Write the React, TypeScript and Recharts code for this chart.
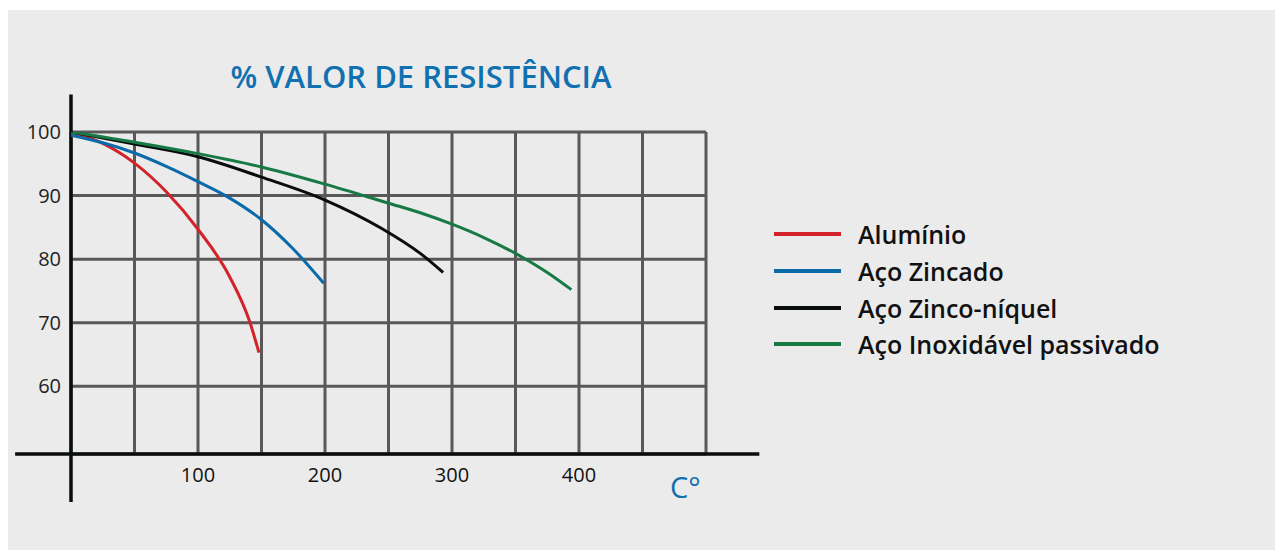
import { LineChart, Line, XAxis, YAxis, CartesianGrid, ReferenceLine } from 'recharts';

const aluminioTemp = [0, 25, 50, 75, 100, 125, 141, 148];
const aluminioRes = [100, 98.2, 95.1, 90.6, 84.7, 77.2, 70, 65.3];

const zincadoTemp = [0, 25, 50, 75, 100, 125, 150, 175, 199];
const zincadoRes = [99.5, 98.3, 96.7, 94.6, 92.2, 89.6, 86.2, 81.6, 76.2];

const zincoNiquelTemp = [0, 50, 100, 150, 200, 244, 275, 293];
const zincoNiquelRes = [100, 98.1, 96.1, 92.9, 89.3, 84.9, 80.9, 77.9];

const inoxTemp = [0, 50, 100, 150, 200, 250, 275, 300, 325, 350, 375, 394];
const inoxRes = [100, 98.4, 96.6, 94.5, 91.8, 88.8, 87.3, 85.5, 83.4, 80.9, 77.9, 75.2];

const xTicks = [0, 50, 100, 150, 200, 250, 300, 350, 400, 450, 500];
const xLabels = [100, 200, 300, 400];
const yTicks = [60, 70, 80, 90, 100];

const toPoints = (t: number[], r: number[]) => t.map((x, i) => ({ t: x, v: r[i] }));

const series = [
    { name: 'Alumínio', color: '#d3222a', data: toPoints(aluminioTemp, aluminioRes) },
    { name: 'Aço Zincado', color: '#0b6aaa', data: toPoints(zincadoTemp, zincadoRes) },
    { name: 'Aço Zinco-níquel', color: '#0a0d0d', data: toPoints(zincoNiquelTemp, zincoNiquelRes) },
    { name: 'Aço Inoxidável passivado', color: '#177a45', data: toPoints(inoxTemp, inoxRes) },
];

const font = '"Open Sans", "Noto Sans", sans-serif';
const blue = '#1170b0';

export default function App() {
    return (
        <div
            style={{
                position: 'relative',
                width: 1276,
                height: 540,
                marginTop: 2,
                marginLeft: -1,
                background: '#ebebeb',
                fontFamily: font,
            }}
        >
            <div
                style={{
                    position: 'absolute',
                    left: 0,
                    width: 828,
                    top: 45,
                    textAlign: 'center',
                    color: blue,
                    fontSize: 31,
                    fontWeight: 600,
                }}
            >
                % VALOR DE RESISTÊNCIA
            </div>
            <div style={{ position: 'absolute', left: 663, top: 457, color: blue, fontSize: 29 }}>C°</div>

            {/* legend, same order as the series */}
            <div style={{ position: 'absolute', left: 767, top: 206 }}>
                {series.map((s) => (
                    <div key={s.name} style={{ display: 'flex', alignItems: 'center', height: 36.7 }}>
                        <span style={{ width: 67, height: 4, background: s.color, marginRight: 17 }} />
                        <span style={{ fontSize: 25, color: '#111', fontWeight: 600 }}>{s.name}</span>
                    </div>
                ))}
            </div>

            <LineChart width={1276} height={540} margin={{ top: 122, left: 4, right: 577, bottom: 56 }}>
                <CartesianGrid stroke="#585858" strokeWidth={3} />
                <XAxis
                    type="number"
                    dataKey="t"
                    domain={[0, 500]}
                    ticks={xTicks}
                    height={40}
                    axisLine={false}
                    tickLine={false}
                    tickMargin={8}
                    allowDataOverflow
                    tick={{ fontSize: 20, fill: '#111', fontFamily: font }}
                    tickFormatter={(v: number) => (xLabels.includes(v) ? String(v) : '')}
                />
                <YAxis
                    type="number"
                    domain={[49.35, 100]}
                    ticks={yTicks}
                    width={60}
                    axisLine={false}
                    tickLine={false}
                    tickMargin={4}
                    allowDataOverflow
                    tick={{ fontSize: 20, fill: '#222', fontFamily: font }}
                />
                <ReferenceLine
                    segment={[{ x: 0, y: 105.9 }, { x: 0, y: 41.8 }]}
                    stroke="#0a0d0d"
                    strokeWidth={3.5}
                    ifOverflow="visible"
                />
                <ReferenceLine
                    segment={[{ x: -44, y: 49.35 }, { x: 542, y: 49.35 }]}
                    stroke="#0a0d0d"
                    strokeWidth={3.5}
                    ifOverflow="visible"
                />
                {series.map((s) => (
                    <Line
                        key={s.name}
                        data={s.data}
                        dataKey="v"
                        name={s.name}
                        type="monotone"
                        stroke={s.color}
                        strokeWidth={3}
                        dot={false}
                        isAnimationActive={false}
                    />
                ))}
            </LineChart>
        </div>
    );
}
